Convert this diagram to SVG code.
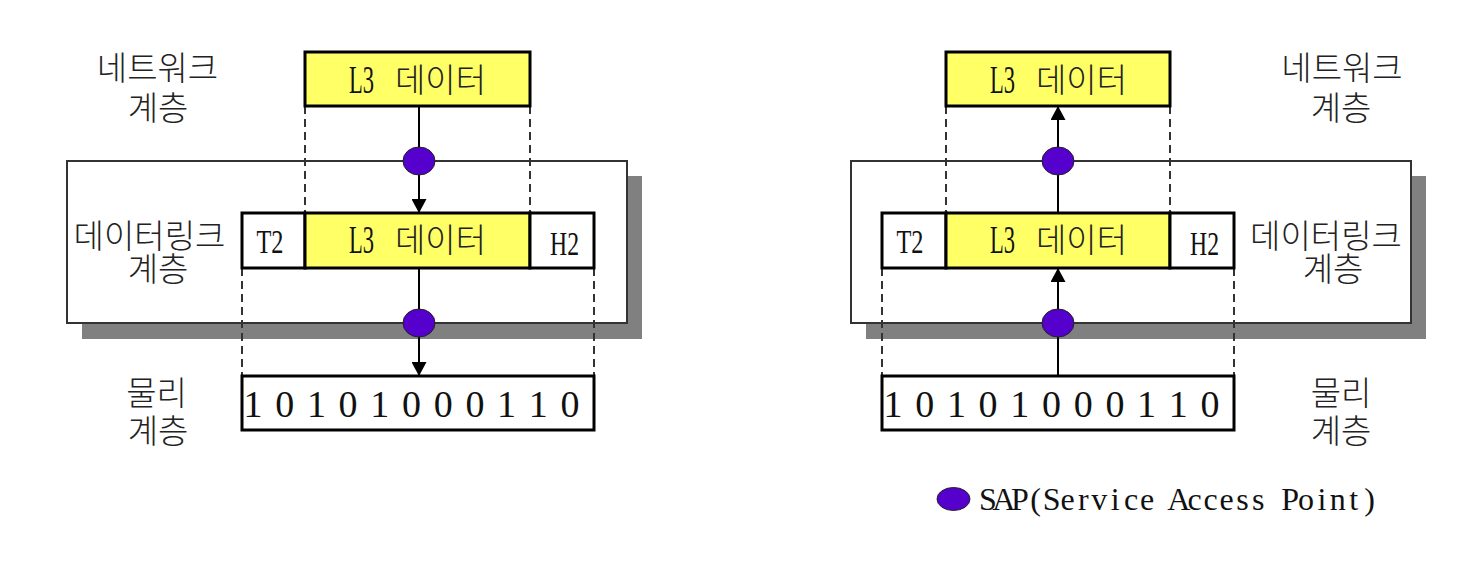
<svg xmlns="http://www.w3.org/2000/svg" width="1466" height="564" viewBox="0 0 1466 564">
<style>
.shadow{fill:#808080}
.outer{fill:#fff;stroke:#333;stroke-width:2}
.ybox{fill:#ffff66;stroke:#000;stroke-width:3}
.wbox{fill:#fff;stroke:#000;stroke-width:3}
.dash{stroke:#333;stroke-width:2;stroke-dasharray:8 5;fill:none}
.conn{stroke:#000;stroke-width:2;fill:none}
.sap{fill:#5500cc;stroke:#222;stroke-width:1}
.ko{font-family:"Noto Sans CJK KR","Noto Sans",sans-serif;font-size:33px;font-weight:300;fill:#222}
.ser{font-family:"Liberation Serif","Noto Sans CJK KR",serif;fill:#111}
</style>
<defs>
<marker id="arr" markerUnits="userSpaceOnUse" markerWidth="15" markerHeight="15" refX="14" refY="7.5" orient="auto">
<path d="M0,0 L14,7.5 L0,15 z" fill="#000"/>
</marker>
</defs>
<rect width="1466" height="564" fill="#fff"/>

<!-- left panel -->
<g id="left-datalink-layer">
<rect class="shadow" x="82" y="176" width="560" height="163"/>
<rect class="outer" x="67" y="161" width="560" height="162"/>
</g>
<g id="left-guides">
<path class="dash" d="M305 106V213M530 106V213M242 268V376M594 268V376"/>
</g>
<g id="left-network-l3">
<rect class="ybox" x="305" y="52" width="225" height="54"/>
<text class="ser" x="349" y="93" font-size="40" textLength="25" lengthAdjust="spacingAndGlyphs">L3</text>
<text class="ko" x="395" y="92">데이터</text>
</g>
<g id="left-t2">
<rect class="wbox" x="242" y="213" width="63" height="55"/>
<text class="ser" x="270" y="253" font-size="33" text-anchor="middle" textLength="27" lengthAdjust="spacingAndGlyphs">T2</text>
</g>
<g id="left-dl-l3">
<rect class="ybox" x="305" y="213" width="225" height="55"/>
<text class="ser" x="349" y="253" font-size="40" textLength="25" lengthAdjust="spacingAndGlyphs">L3</text>
<text class="ko" x="395" y="252">데이터</text>
</g>
<g id="left-h2">
<rect class="wbox" x="530" y="213" width="64" height="55"/>
<text class="ser" x="564.5" y="255" font-size="33" text-anchor="middle" textLength="29" lengthAdjust="spacingAndGlyphs">H2</text>
</g>
<g id="left-bits">
<rect class="wbox" x="242" y="376" width="352" height="54"/>
<text class="ser" y="417" font-size="38" text-anchor="middle" x="253 284.7 316.4 348.1 379.8 411.5 443.2 474.9 506.6 538.3 570">10101000110</text>
</g>
<g id="left-labels">
<text class="ko" x="157.5" y="80" text-anchor="middle">네트워크</text>
<text class="ko" x="158" y="120" text-anchor="middle">계층</text>
<text class="ko" x="149.5" y="248" text-anchor="middle">데이터링크</text>
<text class="ko" x="158" y="281" text-anchor="middle">계층</text>
<text class="ko" x="156.5" y="405" text-anchor="middle">물리</text>
<text class="ko" x="158" y="443" text-anchor="middle">계층</text>
</g>

<!-- right panel -->
<g id="right-datalink-layer">
<rect class="shadow" x="866" y="176" width="560" height="163"/>
<rect class="outer" x="851" y="161" width="560" height="162"/>
</g>
<g id="right-guides">
<path class="dash" d="M946 106V213M1170 106V213M882 268V376M1234 268V376"/>
</g>
<g id="right-network-l3">
<rect class="ybox" x="946" y="52" width="224" height="54"/>
<text class="ser" x="990" y="93" font-size="40" textLength="25" lengthAdjust="spacingAndGlyphs">L3</text>
<text class="ko" x="1036" y="92">데이터</text>
</g>
<g id="right-t2">
<rect class="wbox" x="882" y="213" width="64" height="55"/>
<text class="ser" x="910" y="253" font-size="33" text-anchor="middle" textLength="27" lengthAdjust="spacingAndGlyphs">T2</text>
</g>
<g id="right-dl-l3">
<rect class="ybox" x="946" y="213" width="224" height="55"/>
<text class="ser" x="990" y="253" font-size="40" textLength="25" lengthAdjust="spacingAndGlyphs">L3</text>
<text class="ko" x="1036" y="252">데이터</text>
</g>
<g id="right-h2">
<rect class="wbox" x="1170" y="213" width="64" height="55"/>
<text class="ser" x="1204.5" y="255" font-size="33" text-anchor="middle" textLength="29" lengthAdjust="spacingAndGlyphs">H2</text>
</g>
<g id="right-bits">
<rect class="wbox" x="882" y="376" width="352" height="54"/>
<text class="ser" y="417" font-size="38" text-anchor="middle" x="893 924.7 956.4 988.1 1019.8 1051.5 1083.2 1114.9 1146.6 1178.3 1210">10101000110</text>
</g>
<g id="right-labels">
<text class="ko" x="1342" y="80" text-anchor="middle">네트워크</text>
<text class="ko" x="1341" y="120" text-anchor="middle">계층</text>
<text class="ko" x="1326" y="248" text-anchor="middle">데이터링크</text>
<text class="ko" x="1333" y="281" text-anchor="middle">계층</text>
<text class="ko" x="1341" y="405" text-anchor="middle">물리</text>
<text class="ko" x="1341" y="443" text-anchor="middle">계층</text>
</g>

<g id="connectors">
<line class="conn" x1="419" y1="106" x2="419" y2="213" marker-end="url(#arr)"/>
<line class="conn" x1="419" y1="268" x2="419" y2="376" marker-end="url(#arr)"/>
<line class="conn" x1="1058" y1="376" x2="1058" y2="268" marker-end="url(#arr)"/>
<line class="conn" x1="1058" y1="213" x2="1058" y2="106" marker-end="url(#arr)"/>
</g>

<g id="sap-left-top"><ellipse class="sap" cx="419" cy="161" rx="16" ry="14"/></g>
<g id="sap-left-bottom"><ellipse class="sap" cx="419" cy="323" rx="16" ry="14"/></g>
<g id="sap-right-top"><ellipse class="sap" cx="1058" cy="161" rx="16" ry="14"/></g>
<g id="sap-right-bottom"><ellipse class="sap" cx="1058" cy="323" rx="16" ry="14"/></g>

<g id="legend">
<ellipse class="sap" cx="953.5" cy="499" rx="16.5" ry="11.5"/>
<text class="ser" y="510" font-size="32" text-anchor="middle" x="988 1003.9 1019.8 1035.7 1051.6 1067.5 1083.4 1099.3 1115.2 1131.1 1147 1162.9 1178.8 1194.7 1210.6 1226.5 1242.4 1258.3 1274.2 1290.1 1306 1321.9 1337.8 1353.7 1369.6">SAP(Service Access Point)</text>
</g>
</svg>
